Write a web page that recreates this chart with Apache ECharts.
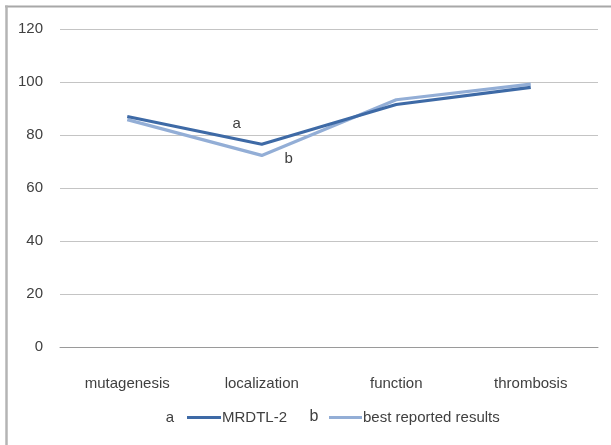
<!DOCTYPE html>
<html><head><meta charset="utf-8">
<script src="https://cdn.jsdelivr.net/npm/echarts@6/dist/echarts.min.js"></script>
<style>html,body{margin:0;padding:0;background:#fff}#c{width:611px;height:445px}</style>
</head><body><div id="c"></div>
<script>
const categories = ['mutagenesis', 'localization', 'function', 'thrombosis'];
const mrdtl2 = [87, 76.5, 91.5, 98];
const bestReported = [85.8, 72.3, 93.3, 99.2];
const yTicks = {min: 0, max: 120, interval: 20};
const seriesNames = ['MRDTL-2', 'best reported results'];
const markerA = 'a', markerB = 'b';

const font = '"Liberation Sans", Arial, sans-serif';
const txt = '#404040';
const lbl = (text, dx, dy) => ({show: true, formatter: text, position: 'inside', offset: [dx, dy], color: txt, fontSize: 15, fontFamily: font});
const chart = echarts.init(document.getElementById('c'));
chart.setOption({
  animation: false,
  textStyle: {fontFamily: font},
  grid: {left: 60, right: 13, top: 29, bottom: 98, containLabel: false},
  xAxis: {
    type: 'category', data: categories, boundaryGap: true,
    axisLine: {show: true, lineStyle: {color: '#9a9a9a'}},
    axisTick: {show: false},
    axisLabel: {color: txt, fontSize: 15, fontFamily: font, margin: 29}
  },
  yAxis: {
    type: 'value', min: yTicks.min, max: yTicks.max, interval: yTicks.interval,
    axisLine: {show: false}, axisTick: {show: false},
    axisLabel: {color: txt, fontSize: 15, fontFamily: font, margin: 17},
    splitLine: {lineStyle: {color: '#c4c4c4', width: 1}}
  },
  legend: [
    {
      left: 182, top: 405, itemWidth: 34, itemHeight: 3, icon: 'rect',
      textStyle: {color: txt, fontSize: 15, fontFamily: font, padding: [0, 0, 0, -4]},
      data: [seriesNames[0]]
    },
    {
      left: 324, top: 405, itemWidth: 33, itemHeight: 3, icon: 'rect',
      textStyle: {color: txt, fontSize: 15, fontFamily: font, padding: [0, 0, 0, -4]},
      data: [seriesNames[1]]
    }
  ],
  series: [
    {
      name: seriesNames[0], type: 'line', showSymbol: true, symbol: 'circle', symbolSize: 0,
      lineStyle: {width: 3.2, color: '#3e6aa6'}, itemStyle: {color: '#3e6aa6'},
      data: mrdtl2.map((v, i) => i === 1 ? {value: v, label: lbl(markerA, -25, -20)} : v),
      z: 3
    },
    {
      name: seriesNames[1], type: 'line', showSymbol: true, symbol: 'circle', symbolSize: 0,
      lineStyle: {width: 3.2, color: '#93aed6'}, itemStyle: {color: '#93aed6'},
      data: bestReported.map((v, i) => i === 1 ? {value: v, label: lbl(markerB, 27, 3)} : v),
      z: 2
    }
  ],
  graphic: [
    {type: 'line', shape: {x1: 5, y1: 6.5, x2: 611, y2: 6.5}, style: {stroke: '#a8a8a8', lineWidth: 2}, z: -1},
    {type: 'line', shape: {x1: 6.5, y1: 5.5, x2: 6.5, y2: 445}, style: {stroke: '#b4b4b4', lineWidth: 2.5}, z: -1},
    {type: 'text', x: 170, y: 418, style: {text: markerA, fill: txt, font: '15px ' + font, align: 'center', verticalAlign: 'middle'}},
    {type: 'text', x: 314, y: 417, style: {text: markerB, fill: txt, font: '16px ' + font, align: 'center', verticalAlign: 'middle'}}
  ]
});
</script></body></html>
